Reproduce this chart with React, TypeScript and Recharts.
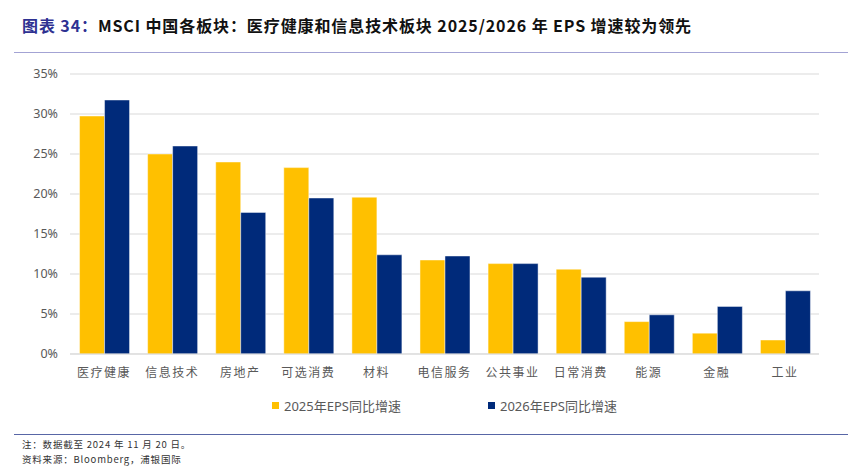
import { Bar, BarChart, CartesianGrid, XAxis, YAxis } from "recharts";

const sectors = ["医疗健康", "信息技术", "房地产", "可选消费", "材料", "电信服务", "公共事业", "日常消费", "能源", "金融", "工业"];
const eps2025 = [29.75, 25.0, 24.0, 23.3, 19.6, 11.75, 11.3, 10.6, 4.05, 2.6, 1.75];
const eps2026 = [31.75, 26.0, 17.7, 19.5, 12.4, 12.25, 11.3, 9.6, 4.9, 5.95, 7.9];
const yTicks = [0, 5, 10, 15, 20, 25, 30, 35];

const series = [
  { key: "y2025", name: "2025年EPS同比增速", color: "#FFC000" },
  { key: "y2026", name: "2026年EPS同比增速", color: "#002A7A" },
];

const data = sectors.map((name, i) => ({ name, y2025: eps2025[i], y2026: eps2026[i] }));

const cjk = '"Noto Sans CJK SC", "Noto Sans", sans-serif';
const latin = '"Noto Sans", "Noto Sans CJK SC", sans-serif';

export default function App() {
  return (
    <div
      style={{
        position: "absolute",
        top: 0,
        left: 0,
        width: 851,
        height: 468,
        background: "#fff",
        fontFamily: cjk,
        overflow: "hidden",
      }}
    >
      {/* title */}
      <div
        style={{
          position: "absolute",
          left: 22,
          top: 13,
          fontSize: 16,
          fontWeight: 700,
          letterSpacing: 0.9,
          whiteSpace: "nowrap",
          color: "#111",
          lineHeight: "24px",
        }}
      >
        <span style={{ color: "#2E3192" }}>图表 34：</span>
        MSCI 中国各板块：医疗健康和信息技术板块 2025/2026 年 EPS 增速较为领先
      </div>
      <div style={{ position: "absolute", left: 14, top: 52, width: 834, height: 1, background: "#A3A3D4" }} />

      <div style={{ position: "absolute", left: 0, top: 0 }}>
        <BarChart
          width={851}
          height={400}
          data={data}
          margin={{ top: 74, right: 32, bottom: 16, left: 0 }}
          barCategoryGap="14%"
          barGap={0}
        >
          <CartesianGrid vertical={false} stroke="#D9D9D9" strokeWidth={1} />
          <XAxis
            dataKey="name"
            height={30}
            axisLine={{ stroke: "#D9D9D9" }}
            tickLine={false}
            tickSize={0}
            tickMargin={14}
            interval={0}
            tick={{ fill: "#595959", fontSize: 12, fontFamily: cjk, letterSpacing: 1.5 }}
          />
          <YAxis
            width={70}
            domain={[0, 35]}
            ticks={yTicks}
            axisLine={false}
            tickLine={false}
            tickSize={0}
            tickMargin={12}
            tickFormatter={(v: number) => `${v}%`}
            tick={{ fill: "#595959", fontSize: 12.5, fontFamily: latin }}
          />
          {series.map((s) => (
            <Bar
              key={s.key}
              dataKey={s.key}
              name={s.name}
              fill={s.color}
              stroke="#ffffff"
              strokeOpacity={0.45}
              strokeWidth={1}
              isAnimationActive={false}
            />
          ))}
        </BarChart>
      </div>

      {/* legend */}
      {series.map((s, i) => (
        <div
          key={s.key}
          style={{
            position: "absolute",
            left: i === 0 ? 272 : 488,
            top: 396,
            height: 18,
            display: "flex",
            alignItems: "center",
            whiteSpace: "nowrap",
            fontSize: 13,
            color: "#595959",
            fontFamily: latin,
          }}
        >
          <span style={{ width: 7, height: 7, background: s.color, marginRight: 5, display: "inline-block" }} />
          {s.name}
        </div>
      ))}

      {/* footer */}
      <div style={{ position: "absolute", left: 14, top: 434, width: 834, height: 1, background: "#5866A6" }} />
      <div
        style={{
          position: "absolute",
          left: 22,
          top: 437,
          fontSize: 9.5,
          lineHeight: "15px",
          color: "#333",
          letterSpacing: 0.8,
          whiteSpace: "nowrap",
        }}
      >
        <div>注：数据截至 2024 年 11 月 20 日。</div>
        <div>资料来源：Bloomberg，浦银国际</div>
      </div>
    </div>
  );
}
